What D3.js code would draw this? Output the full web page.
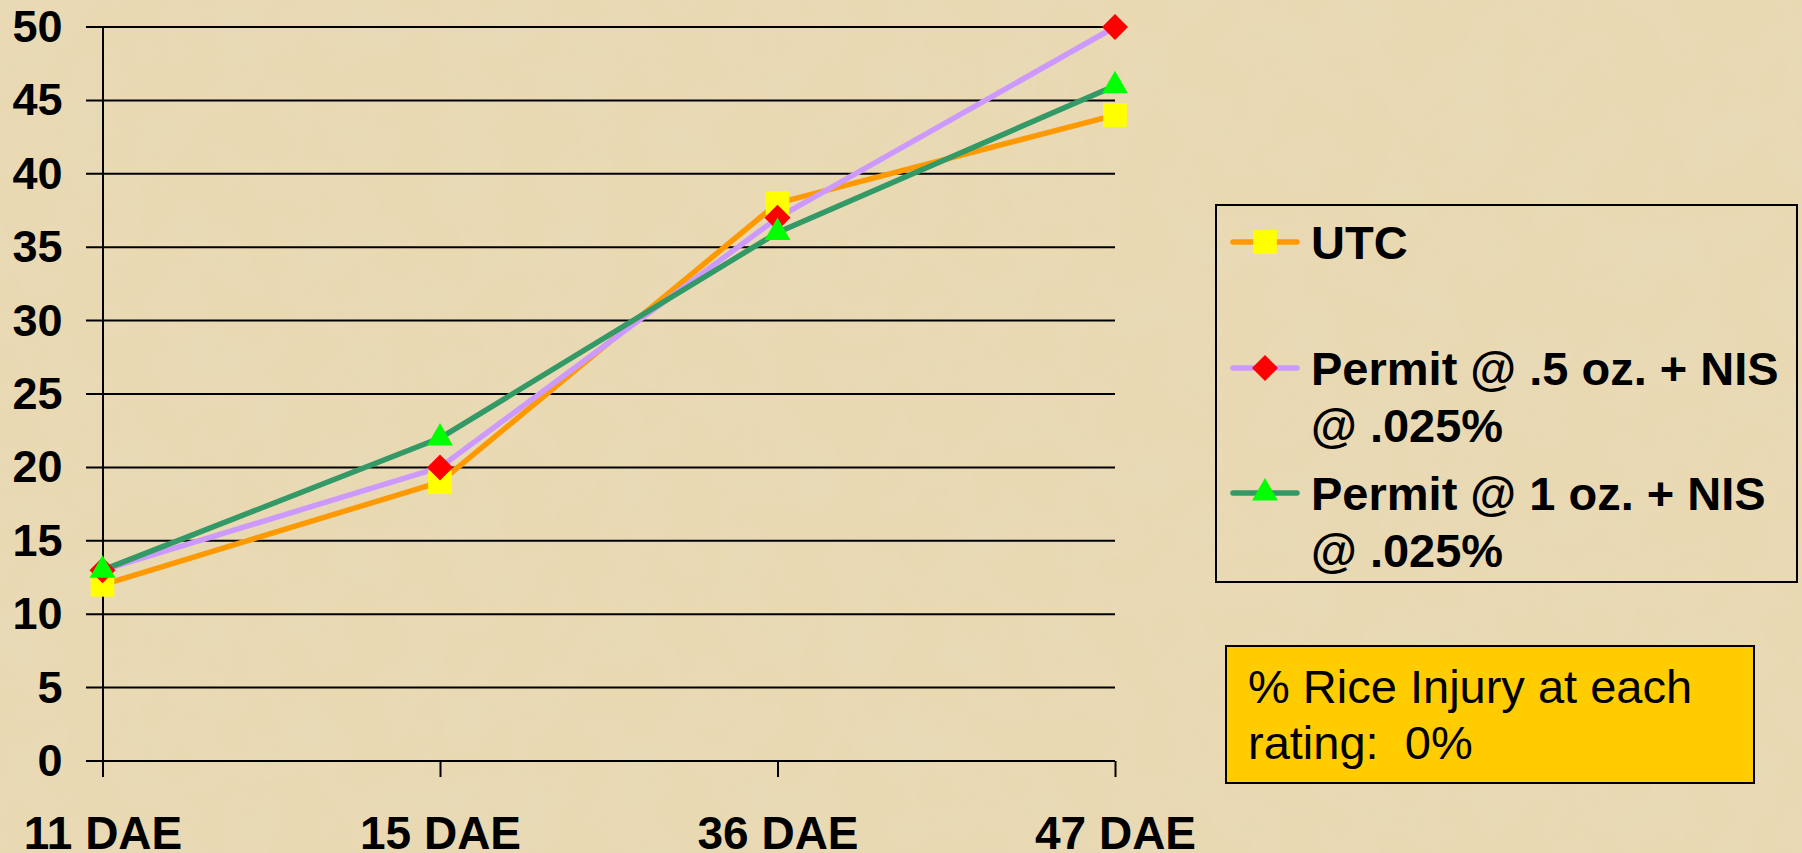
<!DOCTYPE html>
<html>
<head>
<meta charset="utf-8">
<script src="https://cdn.jsdelivr.net/npm/d3@7"></script>
<style>
  html, body { margin: 0; padding: 0; background: #e9d9b3; }
  svg { display: block; font-family: "Liberation Sans", Arial, sans-serif; }
</style>
</head>
<body>
<div id="chart"></div>
<script>
// chart data
const categories = ['11 DAE', '15 DAE', '36 DAE', '47 DAE'];
const utc = [12, 19, 38, 44];
const permitHalf = [13, 20, 37, 50];
const permitOne = [13, 22, 36, 46];
const yTicks = [0, 5, 10, 15, 20, 25, 30, 35, 40, 45, 50];
const seriesNames = ['UTC', 'Permit @ .5 oz. + NIS|@ .025%', 'Permit @ 1 oz. + NIS|@ .025%'];
const noteLines = ['% Rice Injury at each', 'rating:  0%'];

const width = 1802, height = 853;

const series = [
  { name: seriesNames[0], values: utc, line: '#ff9900', fill: '#ffff00', shape: d3.symbolSquare, size: 560 },
  { name: seriesNames[1], values: permitHalf, line: '#cc99ff', fill: '#ff0000', shape: d3.symbolDiamond2, size: 430 },
  { name: seriesNames[2], values: permitOne, line: '#339966', fill: '#00ff00', shape: d3.symbolTriangle2, size: 480 },
];

const svg = d3.select('#chart').append('svg')
  .attr('width', width)
  .attr('height', height);

// parchment-ish background texture
const defs = svg.append('defs');
const filt = defs.append('filter').attr('id', 'paper').attr('x', 0).attr('y', 0).attr('width', '100%').attr('height', '100%');
filt.append('feTurbulence').attr('type', 'fractalNoise').attr('baseFrequency', 0.018).attr('numOctaves', 3).attr('seed', 4).attr('result', 'noise');
filt.append('feColorMatrix').attr('in', 'noise').attr('type', 'matrix')
  .attr('values', '0 0 0 0 0.80  0 0 0 0 0.72  0 0 0 0 0.52  0 0 0 -2.2 1.25');
svg.append('rect').attr('width', width).attr('height', height).attr('fill', '#e9d9b3');
svg.append('rect').attr('width', width).attr('height', height).attr('filter', 'url(#paper)').attr('opacity', 0.35);

const x = d3.scalePoint()
  .domain(categories)
  .range([102.5, 1115]);

const y = d3.scaleLinear()
  .domain([0, 50])
  .range([761, 27]);

// gridlines
svg.append('g')
  .selectAll('line')
  .data(yTicks)
  .join('line')
  .attr('x1', 86)
  .attr('x2', x(categories[categories.length - 1]))
  .attr('y1', d => y(d))
  .attr('y2', d => y(d))
  .attr('stroke', '#000')
  .attr('stroke-width', 2);

// y axis
const yAxis = d3.axisLeft(y).tickValues(yTicks).tickSize(0).tickPadding(24);
const gy = svg.append('g')
  .attr('transform', `translate(${x(categories[0])},0)`)
  .call(yAxis);
gy.select('.domain').attr('stroke', '#000').attr('stroke-width', 2);
gy.selectAll('text')
  .attr('font-size', 45)
  .attr('font-weight', 'bold')
  .attr('fill', '#000')
  .attr('font-family', '"Liberation Sans", Arial, sans-serif')
  .attr('dx', '-16');

// x axis
const xAxis = d3.axisBottom(x).tickSize(16).tickPadding(39);
const gx = svg.append('g')
  .attr('transform', `translate(0,${y(0)})`)
  .call(xAxis);
gx.select('.domain').remove();
gx.selectAll('.tick line').attr('stroke', '#000').attr('stroke-width', 2);
gx.selectAll('text')
  .attr('font-size', 46)
  .attr('font-weight', 'bold')
  .attr('fill', '#000')
  .attr('font-family', '"Liberation Sans", Arial, sans-serif');

// series lines
const line = d3.line()
  .x((d, i) => x(categories[i]))
  .y(d => y(d));

svg.append('g')
  .selectAll('path')
  .data(series)
  .join('path')
  .attr('d', s => line(s.values))
  .attr('fill', 'none')
  .attr('stroke', s => s.line)
  .attr('stroke-width', 5.5)
  .attr('stroke-linejoin', 'round');

// markers
series.forEach(s => {
  svg.append('g')
    .selectAll('path')
    .data(s.values)
    .join('path')
    .attr('transform', (d, i) => `translate(${x(categories[i])},${y(d)})`)
    .attr('d', d3.symbol().type(s.shape).size(s.size))
    .attr('fill', s.fill);
});

// legend
const legend = svg.append('g');
legend.append('rect')
  .attr('x', 1216).attr('y', 205)
  .attr('width', 581).attr('height', 377)
  .attr('fill', 'none')
  .attr('stroke', '#000')
  .attr('stroke-width', 2);

const legendRows = [242, 368, 493];
series.forEach((s, i) => {
  const ly = legendRows[i];
  legend.append('line')
    .attr('x1', 1233).attr('x2', 1297)
    .attr('y1', ly).attr('y2', ly)
    .attr('stroke', s.line)
    .attr('stroke-width', 5.5)
    .attr('stroke-linecap', 'round');
  legend.append('path')
    .attr('transform', `translate(1265,${ly})`)
    .attr('d', d3.symbol().type(s.shape).size(s.size))
    .attr('fill', s.fill);
  const t = legend.append('text')
    .attr('x', 1311)
    .attr('y', ly + 17)
    .attr('font-size', 47)
    .attr('font-weight', 'bold')
    .attr('fill', '#000');
  s.name.split('|').forEach((part, j) => {
    t.append('tspan').attr('x', 1311).attr('dy', j === 0 ? 0 : 57).text(part);
  });
});

// note box
const note = svg.append('g');
note.append('rect')
  .attr('x', 1226).attr('y', 646)
  .attr('width', 528).attr('height', 137)
  .attr('fill', '#ffcc00')
  .attr('stroke', '#000')
  .attr('stroke-width', 2);
note.selectAll('text')
  .data(noteLines)
  .join('text')
  .attr('x', 1248)
  .attr('y', (d, i) => 703 + i * 56)
  .attr('font-size', 47)
  .attr('fill', '#000')
  .attr('xml:space', 'preserve')
  .style('white-space', 'pre')
  .text(d => d);
</script>
</body>
</html>
